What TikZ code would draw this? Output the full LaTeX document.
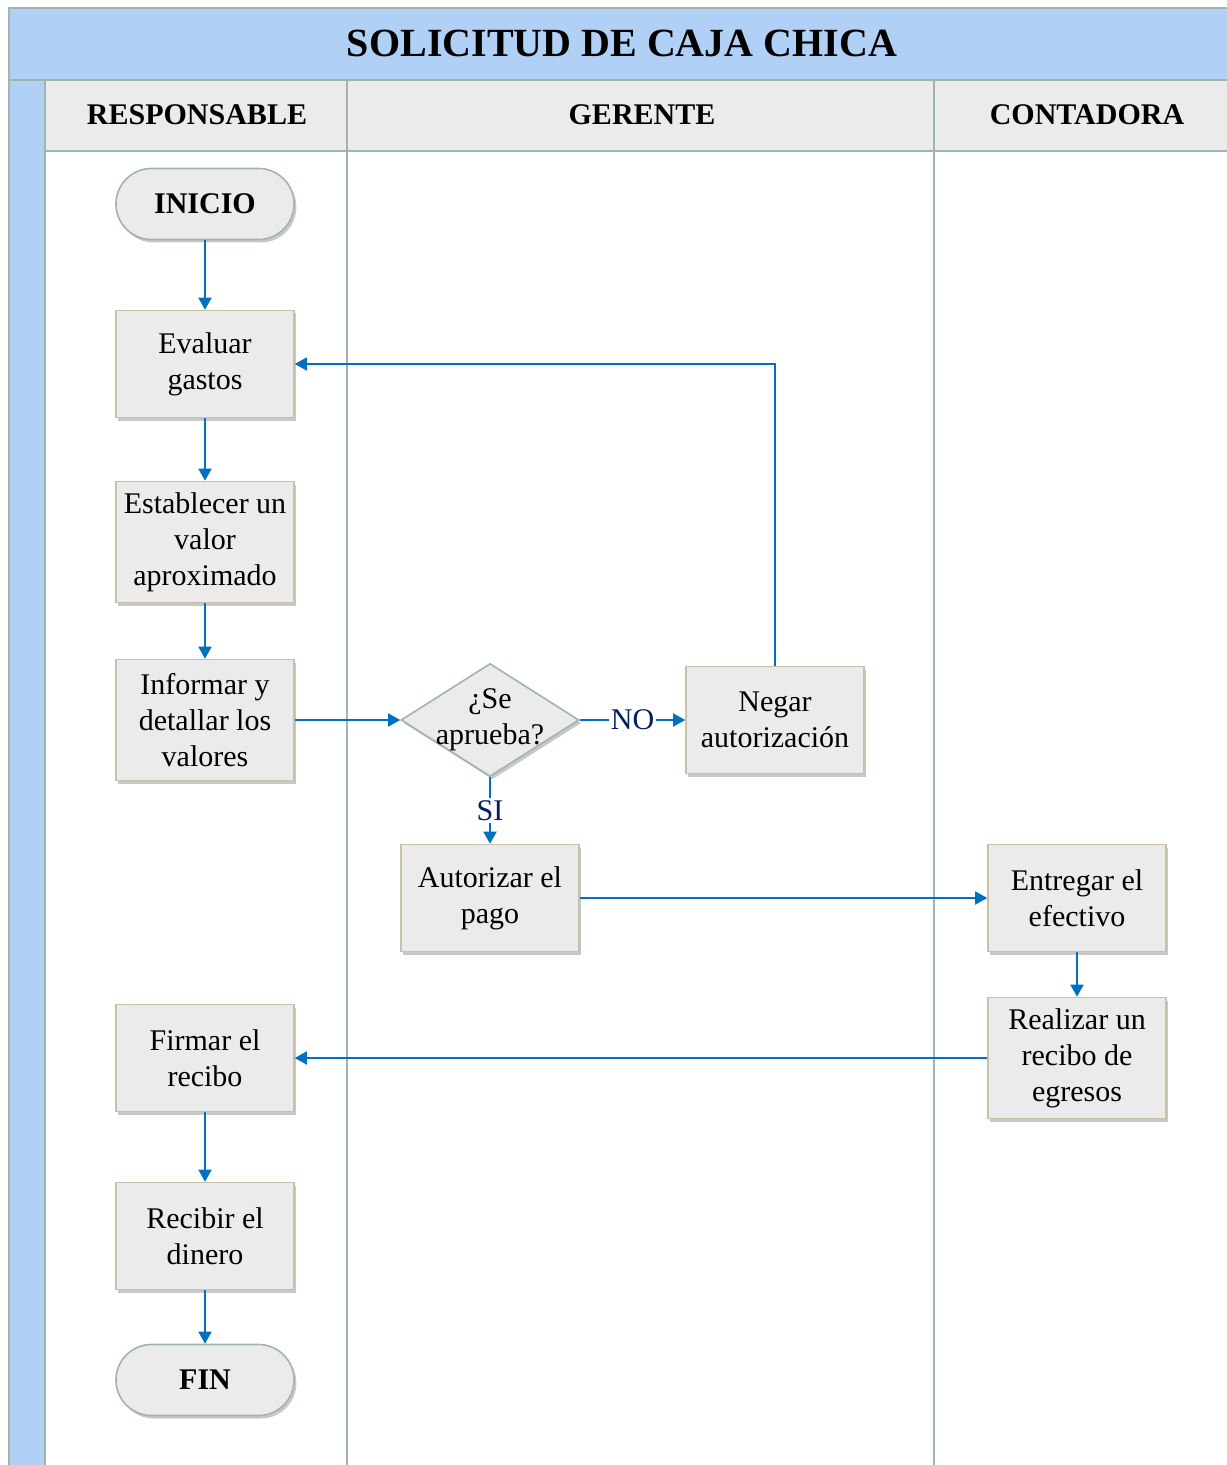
\documentclass[tikz,border=0pt]{standalone}
\usepackage{fontspec}
\setmainfont{Liberation Serif}
\usetikzlibrary{shapes.geometric,arrows.meta,shadows}
\definecolor{bandblue}{RGB}{176,208,245}
\definecolor{hdrgrey}{RGB}{235,235,235}
\definecolor{laneline}{RGB}{160,180,174}
\definecolor{boxline}{RGB}{200,192,170}
\definecolor{flow}{RGB}{0,112,192}
\definecolor{lbl}{RGB}{0,32,96}
\begin{document}
\begin{tikzpicture}[x=0.5pt,y=-0.5pt,
  shd/.style={drop shadow={shadow xshift=1.2pt,shadow yshift=-1.5pt,opacity=0.3,fill=black!70}},
  proc/.style={draw=boxline,line width=0.8pt,fill=hdrgrey,shd,minimum width=89pt,minimum height=53.5pt,
    align=center,font=\fontsize{15}{18}\selectfont,inner sep=2pt},
  tall/.style={proc,minimum height=60.5pt},
  term/.style={draw=laneline,line width=0.8pt,fill=hdrgrey,shd,rounded corners=17.7pt,minimum width=89pt,
    minimum height=35.5pt,font=\fontsize{15}{18}\selectfont\bfseries,inner sep=2pt},
  decis/.style={diamond,draw=laneline,line width=0.8pt,fill=hdrgrey,shd,minimum width=89pt,minimum height=56.5pt,inner sep=0pt},
  hdr/.style={font=\fontsize{15}{18}\selectfont\bfseries},
  flowline/.style={draw=flow,line width=0.9pt,-{Triangle[length=6pt,width=6.5pt]}},
  yn/.style={fill=white,text=lbl,inner sep=1pt,font=\fontsize{15}{18}\selectfont},
  lane/.style={draw=laneline,line width=1pt}]
  \path[use as bounding box] (0,0) rectangle (1226,1465);
  \fill[white] (0,0) rectangle (1226,1465);
  % bands
  \fill[bandblue] (9,8) rectangle (1230,80);
  \fill[bandblue] (9,80) rectangle (45,1470);
  \fill[hdrgrey] (45,80) rectangle (1230,151);
  \draw[lane] (9,1470) -- (9,8) -- (1230,8);
  \draw[lane] (9,80) -- (1230,80);
  \draw[lane] (45,80) -- (45,1470);
  \draw[lane] (45,151) -- (1230,151);
  \draw[lane] (347,80) -- (347,1470);
  \draw[lane] (934,80) -- (934,1470);
  % titles
  \node[font=\fontsize{20}{24}\selectfont\bfseries] (title) at (622,43) {SOLICITUD DE CAJA CHICA};
  \node[hdr] (h1) at (197,115) {RESPONSABLE};
  \node[hdr] (h2) at (642,115) {GERENTE};
  \node[hdr] (h3) at (1087,115) {CONTADORA};
  % nodes
  \node[term] (inicio) at (205,204) {INICIO};
  \node[proc] (eval) at (205,364) {Evaluar\\gastos};
  \node[tall] (estab) at (205,542) {Establecer un\\valor\\aproximado};
  \node[tall] (inf) at (205,720) {Informar y\\detallar los\\valores};
  \node[decis,label={[align=center,font=\fontsize{15}{18}\selectfont]center:{¿Se\\aprueba?}}] (dec) at (490,720) {};
  \node[proc] (negar) at (775,720) {Negar\\autorización};
  \node[proc] (aut) at (490,898) {Autorizar el\\pago};
  \node[proc] (ent) at (1077,898) {Entregar el\\efectivo};
  \node[tall] (real) at (1077,1058) {Realizar un\\recibo de\\egresos};
  \node[proc] (firm) at (205,1058) {Firmar el\\recibo};
  \node[proc] (recib) at (205,1236) {Recibir el\\dinero};
  \node[term] (fin) at (205,1380) {FIN};
  % connectors
  \draw[flowline] (inicio) -- (eval);
  \draw[flowline] (eval) -- (estab);
  \draw[flowline] (estab) -- (inf);
  \draw[flowline] (inf) -- (dec);
  \draw[flowline] (dec) -- node[yn] {NO} (negar);
  \draw[flowline] (negar.north) |- (eval.east);
  \draw[flowline] (dec) -- node[yn] {SI} (aut);
  \draw[flowline] (aut) -- (ent);
  \draw[flowline] (ent) -- (real);
  \draw[flowline] (real) -- (firm);
  \draw[flowline] (firm) -- (recib);
  \draw[flowline] (recib) -- (fin);
\end{tikzpicture}
\end{document}
